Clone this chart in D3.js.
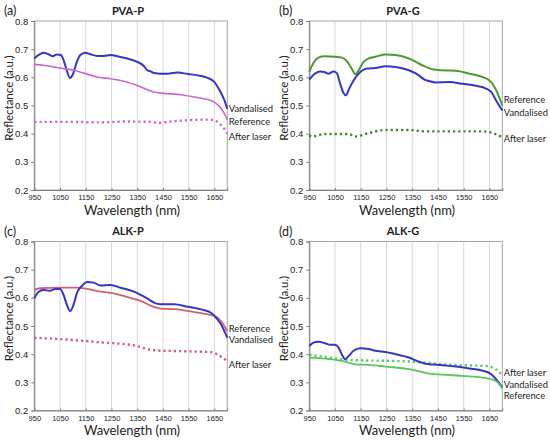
<!DOCTYPE html>
<html>
<head>
<meta charset="utf-8">
<script src="https://cdn.jsdelivr.net/npm/d3@7"></script>
<style>
  body { margin: 0; background: #fff; }
  svg { font-family: Lato, "Open Sans", sans-serif; }
</style>
</head>
<body>
<div id="chart"></div>
<script>
// ---- data (wavelength nm, reflectance a.u.) ----
const xTicks = [950, 1050, 1150, 1250, 1350, 1450, 1550, 1650];
const yTicks = [0.2, 0.3, 0.4, 0.5, 0.6, 0.7, 0.8];

// (a) PVA-P
const pvaPVand = [[950,0.667],[972,0.682],[985,0.687],[1005,0.682],[1022,0.675],[1037,0.681],[1053,0.679],[1063,0.663],[1076,0.625],[1089,0.598],[1100,0.611],[1113,0.649],[1129,0.679],[1148,0.687],[1168,0.682],[1194,0.676],[1220,0.676],[1246,0.679],[1272,0.675],[1311,0.667],[1350,0.655],[1376,0.640],[1389,0.625],[1402,0.621],[1415,0.615],[1441,0.613],[1468,0.613],[1507,0.617],[1546,0.612],[1585,0.607],[1624,0.598],[1650,0.583],[1670,0.554],[1689,0.518],[1700,0.488]];
const pvaPRef = [[950,0.646],[985,0.643],[1024,0.637],[1063,0.631],[1103,0.625],[1142,0.615],[1194,0.601],[1246,0.595],[1298,0.586],[1350,0.571],[1389,0.556],[1415,0.548],[1468,0.542],[1520,0.538],[1572,0.530],[1624,0.521],[1650,0.512],[1670,0.496],[1689,0.470],[1700,0.450]];
const pvaPLaser = [[950,0.442],[1050,0.442],[1150,0.441],[1200,0.440],[1300,0.443],[1400,0.442],[1430,0.438],[1480,0.443],[1550,0.448],[1620,0.450],[1650,0.448],[1670,0.435],[1690,0.415],[1700,0.400]];

// (b) PVA-G
const pvaGRef = [[950,0.619],[966,0.651],[985,0.670],[1011,0.675],[1050,0.673],[1076,0.670],[1096,0.657],[1116,0.629],[1129,0.611],[1142,0.625],[1161,0.655],[1181,0.667],[1207,0.673],[1246,0.681],[1285,0.679],[1337,0.667],[1389,0.643],[1428,0.629],[1468,0.625],[1520,0.623],[1572,0.613],[1624,0.601],[1657,0.583],[1676,0.554],[1689,0.527],[1700,0.500]];
const pvaGVand = [[950,0.592],[972,0.613],[992,0.621],[1011,0.618],[1024,0.613],[1044,0.621],[1057,0.615],[1070,0.577],[1083,0.544],[1092,0.536],[1105,0.560],[1122,0.589],[1148,0.619],[1174,0.631],[1207,0.633],[1246,0.639],[1285,0.637],[1337,0.625],[1376,0.607],[1396,0.593],[1415,0.587],[1441,0.582],[1494,0.583],[1546,0.577],[1598,0.570],[1637,0.560],[1657,0.548],[1676,0.518],[1700,0.482]];
const pvaGLaser = [[950,0.395],[959,0.390],[1011,0.399],[1103,0.399],[1129,0.390],[1181,0.402],[1246,0.413],[1337,0.413],[1402,0.408],[1624,0.408],[1663,0.402],[1700,0.387]];

// (c) ALK-P
const alkPRef = [[950,0.628],[972,0.634],[1050,0.636],[1116,0.636],[1155,0.632],[1207,0.622],[1259,0.616],[1311,0.603],[1363,0.589],[1415,0.568],[1441,0.562],[1507,0.559],[1572,0.549],[1624,0.541],[1657,0.533],[1676,0.517],[1700,0.482]];
const alkPVand = [[950,0.598],[966,0.621],[985,0.628],[1011,0.625],[1031,0.631],[1050,0.631],[1063,0.612],[1076,0.577],[1089,0.553],[1103,0.577],[1116,0.618],[1135,0.642],[1155,0.656],[1181,0.654],[1207,0.644],[1246,0.646],[1285,0.636],[1337,0.622],[1376,0.604],[1396,0.594],[1415,0.583],[1441,0.577],[1494,0.577],[1546,0.568],[1598,0.559],[1637,0.547],[1657,0.529],[1676,0.505],[1700,0.458]];
const alkPLaser = [[950,0.458],[1076,0.452],[1207,0.442],[1337,0.431],[1415,0.414],[1546,0.410],[1637,0.407],[1663,0.398],[1700,0.375]];

// (d) ALK-G
const alkGVand = [[950,0.429],[966,0.441],[985,0.444],[1011,0.439],[1031,0.433],[1050,0.433],[1063,0.424],[1076,0.400],[1089,0.382],[1103,0.394],[1122,0.412],[1148,0.421],[1181,0.418],[1207,0.412],[1246,0.408],[1285,0.400],[1337,0.388],[1376,0.373],[1415,0.364],[1468,0.361],[1520,0.356],[1572,0.349],[1624,0.341],[1657,0.329],[1676,0.311],[1700,0.282]];
const alkGRef = [[950,0.388],[1011,0.384],[1076,0.376],[1129,0.364],[1181,0.362],[1246,0.356],[1337,0.347],[1415,0.331],[1494,0.326],[1572,0.321],[1624,0.317],[1657,0.311],[1683,0.299],[1700,0.278]];
const alkGLaser = [[950,0.398],[1011,0.390],[1076,0.382],[1155,0.378],[1272,0.376],[1376,0.372],[1468,0.364],[1572,0.360],[1637,0.358],[1676,0.346],[1700,0.325]];

const panels = [
  { tag: "(a)", title: "PVA-P", col: 0, row: 0, series: [
    { d: pvaPVand, c: "#3535c8", w: 2, dash: false, label: "Vandalised", ly: 109 },
    { d: pvaPRef, c: "#cc66cc", w: 1.6, dash: false, label: "Reference", ly: 121.7 },
    { d: pvaPLaser, c: "#cc66cc", w: 2.4, dash: true, label: "After laser", ly: 136.7 } ] },
  { tag: "(b)", title: "PVA-G", col: 1, row: 0, series: [
    { d: pvaGRef, c: "#4e9a2e", w: 2, dash: false, label: "Reference", ly: 100 },
    { d: pvaGVand, c: "#3535c8", w: 2, dash: false, label: "Vandalised", ly: 112.3 },
    { d: pvaGLaser, c: "#3f8a22", w: 2.4, dash: true, label: "After laser", ly: 138.3 } ] },
  { tag: "(c)", title: "ALK-P", col: 0, row: 1, series: [
    { d: alkPRef, c: "#d0606e", w: 1.8, dash: false, label: "Reference", ly: 108.5 },
    { d: alkPVand, c: "#3535c8", w: 2, dash: false, label: "Vandalised", ly: 119.5 },
    { d: alkPLaser, c: "#d0606e", w: 2.4, dash: true, label: "After laser", ly: 144.5 } ] },
  { tag: "(d)", title: "ALK-G", col: 1, row: 1, series: [
    { d: alkGLaser, c: "#5cc65c", w: 2.4, dash: true, label: "After laser", ly: 152.5 },
    { d: alkGVand, c: "#3535c8", w: 2, dash: false, label: "Vandalised", ly: 164 },
    { d: alkGRef, c: "#5cc65c", w: 1.8, dash: false, label: "Reference", ly: 175 } ] }
];

const svg = d3.select("#chart").append("svg")
  .attr("width", 550).attr("height", 440);

const pLeft = 34.3, pRight = 227.3, pTop = 21, pBottom = 190;

panels.forEach(function (p) {
  const g = svg.append("g")
    .attr("transform", "translate(" + (p.col * 275) + "," + (p.row * 220.5) + ")");

  const x = d3.scaleLinear().domain([950, 1700]).range([pLeft, pRight]);
  const y = d3.scaleLinear().domain([0.2, 0.8]).range([pBottom, pTop]);

  // vertical grid
  g.append("g").selectAll("line")
    .data(xTicks.slice(1))
    .enter().append("line")
    .attr("x1", d => x(d)).attr("x2", d => x(d))
    .attr("y1", pTop).attr("y2", pBottom)
    .attr("stroke", "#d9d9d9").attr("stroke-width", 1);

  // frame
  g.append("rect")
    .attr("x", pLeft).attr("y", pTop)
    .attr("width", pRight - pLeft).attr("height", pBottom - pTop)
    .attr("fill", "none").attr("stroke", "#a6a6a6").attr("stroke-width", 1);

  // y axis
  const yAxis = g.append("g")
    .attr("transform", "translate(" + pLeft + ",0)")
    .call(d3.axisLeft(y).tickValues(yTicks).tickFormat(d3.format(".1f")).tickSize(3).tickPadding(3));
  yAxis.select(".domain").attr("stroke", "#7f7f7f");
  yAxis.selectAll(".tick line").attr("stroke", "#7f7f7f");
  yAxis.selectAll("text").attr("font-size", 9.5).attr("fill", "#222");

  // x axis
  const xAxis = g.append("g")
    .attr("transform", "translate(0," + pBottom + ")")
    .call(d3.axisBottom(x).tickValues(xTicks).tickFormat(d3.format("d")).tickSize(-2).tickPadding(5));
  xAxis.select(".domain").attr("stroke", "#7f7f7f");
  xAxis.selectAll(".tick line").attr("stroke", "#7f7f7f");
  xAxis.selectAll("text").attr("font-size", 7.5).attr("fill", "#222");

  // lines
  const line = d3.line()
    .x(d => x(d[0])).y(d => y(d[1]))
    .curve(d3.curveMonotoneX);

  p.series.forEach(function (s) {
    g.append("path")
      .datum(s.d)
      .attr("d", line)
      .attr("fill", "none")
      .attr("stroke", s.c)
      .attr("stroke-width", s.w)
      .attr("stroke-dasharray", s.dash ? "2.2 3" : null);

    g.append("text")
      .attr("x", pRight + 1.5)
      .attr("y", s.ly)
      .attr("dy", "0.35em")
      .attr("font-size", 9.4)
      .attr("fill", "#222")
      .text(s.label);
  });

  // titles
  g.append("text")
    .attr("x", 4).attr("y", 11).attr("dy", "0.35em")
    .attr("font-size", 12.5).attr("fill", "#222")
    .text(p.tag);
  g.append("text")
    .attr("x", 128).attr("y", 11).attr("dy", "0.35em")
    .attr("text-anchor", "middle")
    .attr("font-size", 11).attr("font-weight", "bold").attr("fill", "#222")
    .text(p.title);

  // axis titles
  g.append("text")
    .attr("x", 132).attr("y", 210).attr("dy", "0.35em")
    .attr("text-anchor", "middle")
    .attr("font-size", 13).attr("fill", "#222")
    .text("Wavelength (nm)");
  g.append("text")
    .attr("transform", "translate(9,98) rotate(-90)")
    .attr("dy", "0.35em")
    .attr("text-anchor", "middle")
    .attr("font-size", 11.5).attr("fill", "#222")
    .text("Reflectance (a.u.)");
});
</script>
</body>
</html>
